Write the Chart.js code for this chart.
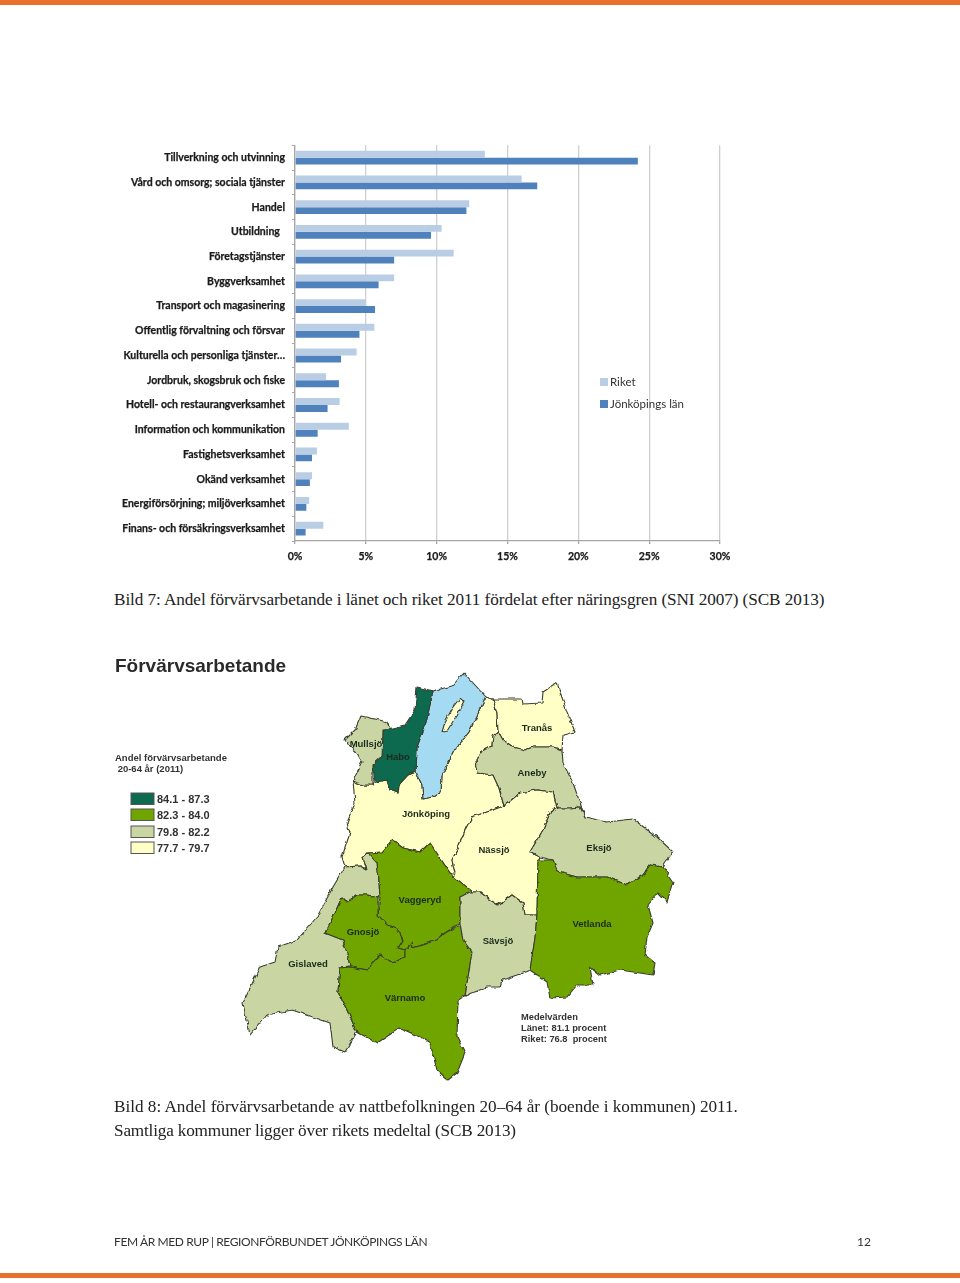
<!DOCTYPE html>
<html lang="sv"><head><meta charset="utf-8">
<script src="https://cdn.jsdelivr.net/npm/chart.js@4"></script>
<style>
html,body{margin:0;padding:0;background:#fff}
body{width:960px;height:1283px;position:relative;overflow:hidden}
.abs{position:absolute;white-space:pre}
.bar{position:absolute;left:0;width:960px;height:5px;background:#e8702a}
.cap{position:absolute;left:114px;font:17.2px "Liberation Serif",serif;color:#222;white-space:pre}
#chartBox{position:absolute;left:100px;top:132px;width:640px;height:438px}
.lg{position:absolute;font:400 11.5px Lato,sans-serif;color:#333;white-space:pre}
.sw{position:absolute;width:8px;height:8px}
svg{position:absolute;left:0;top:0}
</style></head><body>
<div class="bar" style="top:0"></div>
<div class="bar" style="top:1273px"></div>
<div id="chartBox"><canvas id="c" width="640" height="438"></canvas></div>
<div id="legend"></div>
<div class="cap" style="top:590px;letter-spacing:-0.08px">Bild 7: Andel förvärvsarbetande i länet och riket 2011 fördelat efter näringsgren (SNI 2007) (SCB 2013)</div>
<svg id="map" width="960" height="1283" viewBox="0 0 960 1283">
<defs><filter id="rough" x="-5%" y="-5%" width="110%" height="110%">
<feTurbulence type="fractalNoise" baseFrequency="0.16" numOctaves="2" seed="4" result="n"/>
<feDisplacementMap in="SourceGraphic" in2="n" scale="4" xChannelSelector="R" yChannelSelector="G"/>
<feGaussianBlur stdDeviation="0.35"/></filter>
<filter id="soft"><feGaussianBlur stdDeviation="0.25"/></filter></defs>
<g id="regions" filter="url(#rough)" stroke="#3a3f30" stroke-width="1.1" stroke-linejoin="round"></g>
<g id="labels" filter="url(#soft)" font-family="'Liberation Sans',Arial,sans-serif" font-weight="700" fill="#1c2a1c"></g>
</svg>
<div class="cap" style="top:1097px;letter-spacing:-0.02px">Bild 8: Andel förvärvsarbetande av nattbefolkningen 20–64 år (boende i kommunen) 2011.</div>
<div class="cap" style="top:1121px;letter-spacing:-0.18px">Samtliga kommuner ligger över rikets medeltal (SCB 2013)</div>
<div class="abs" style="left:114px;top:1234px;font:12px Lato,sans-serif;letter-spacing:-0.39px;color:#333">FEM ÅR MED RUP | REGIONFÖRBUNDET JÖNKÖPINGS LÄN</div>
<div class="abs" style="left:857px;top:1234px;font:12px Lato,sans-serif;color:#333">12</div>
<script>
const categories = ["Tillverkning och utvinning","Vård och omsorg; sociala tjänster","Handel","Utbildning  ","Företagstjänster","Byggverksamhet","Transport och magasinering","Offentlig förvaltning och försvar","Kulturella och personliga tjänster…","Jordbruk, skogsbruk och fiske","Hotell- och restaurangverksamhet","Information och kommunikation","Fastighetsverksamhet","Okänd verksamhet","Energiförsörjning; miljöverksamhet","Finans- och försäkringsverksamhet"];
const riket = [13.4,16.0,12.3,10.35,11.2,7.0,5.0,5.6,4.35,2.2,3.15,3.8,1.55,1.2,1.0,2.0];
const jonkoping = [24.2,17.1,12.1,9.6,7.0,5.9,5.65,4.55,3.25,3.1,2.3,1.6,1.2,1.05,0.8,0.75];
const seriesNames = ["Riket","Jönköpings län"];
const seriesColors = ["#b9cde5","#4f81bd"];
const xTicks = [0,5,10,15,20,25,30];

const chart = new Chart(document.getElementById('c'),{
  type:'bar',
  data:{labels:categories,datasets:[
    {label:seriesNames[0],data:riket,backgroundColor:seriesColors[0]},
    {label:seriesNames[1],data:jonkoping,backgroundColor:seriesColors[1]}]},
  options:{indexAxis:'y',responsive:false,animation:false,
    categoryPercentage:0.56,barPercentage:1,
    layout:{padding:{left:0,right:20,top:5,bottom:0}},
    plugins:{legend:{display:false},tooltip:{enabled:false}},
    scales:{
      x:{min:0,max:30,afterBuildTicks(s){s.ticks=xTicks.map(v=>({value:v}))},
        afterFit(s){s.height=29},
        grid:{color:'#cfcfcf',lineWidth:1.3,tickLength:3,tickColor:'#a6a6a6'},
        border:{color:'#a6a6a6',width:1.3},
        ticks:{callback:v=>v+'%',color:'#1a1a1a',font:{family:'Lato',size:10.5,weight:'700'},padding:6,maxRotation:0,autoSkip:false,textStrokeWidth:0.25,textStrokeColor:'#1a1a1a'}},
      y:{afterFit(s){s.width=195},
        grid:{display:true,drawOnChartArea:false,tickLength:3,color:'#a6a6a6',offset:true},
        border:{color:'#a6a6a6',width:1.3},
        ticks:{color:'#1a1a1a',font:{family:'Lato',size:10.5,weight:'700'},padding:7,autoSkip:false,crossAlign:'near',textStrokeWidth:0.25,textStrokeColor:'#1a1a1a'}}
    }}
});

const legendY=[382,404];
seriesNames.forEach((n,i)=>{
  const h=document.getElementById('legend');
  const s=document.createElement('div');s.className='sw';s.style.cssText+=`left:600px;top:${legendY[i]-4}px;background:${seriesColors[i]}`;h.appendChild(s);
  const t=document.createElement('div');t.className='lg';t.textContent=n;t.style.cssText+=`left:610px;top:${legendY[i]-7}px`;h.appendChild(t);
});

const C={dark:'#0b6b4f',green:'#70a500',light:'#c9d6a4',cream:'#ffffc6',blue:'#a5daf3',isl:'#ffffd0'};
const regions=[
 ['cream',"486,697 493,699 497,713 498,731 493,735 492,746 480,752 476,760 478,773 493,775 499,788 504,806 487,812 472,817 466,828 458,848 452,860 455,873 450,873 430,843 420,852 403,848 392,840 382,852 368,853 363,858 367,870 360,866 345,867 342,857 350,833 347,823 355,803 353,781 363,785 373,785 375,782 387,780 390,790 398,793 399,785 408,775 416,772 422,785 423,799 432,797 441,793 442,775 455,750 469,732"],
 ['blue',"464,673 486,697 469,732 455,750 442,775 441,793 432,797 423,799 422,785 416,772 417,747 426,723 433,691 452,686"],
 ['isl',"460,698 464,702 457,715 447,731 442,732 445,722 453,707"],
 ['dark',"417,687 433,691 426,723 417,747 416,772 408,775 399,785 398,793 390,790 387,780 375,782 373,765 382,757 383,730 405,725 415,710"],
 ['light',"361,716 375,719 387,722 390,729 383,730 382,757 373,765 373,785 363,785 353,781 362,762 357,753 350,747 345,740 355,730"],
 ['cream',"493,699 522,699 523,704 542,703 543,692 557,683 567,712 575,732 563,735 562,750 553,747 533,747 525,750 513,747 503,740 498,731 497,713"],
 ['light',"498,731 503,740 513,747 525,750 533,747 553,747 562,750 563,763 573,783 585,817 580,807 570,808 557,808 553,792 537,790 520,793 504,806 499,788 493,775 478,773 476,760 480,752 492,746 493,735"],
 ['cream',"504,806 520,793 537,790 553,792 557,808 550,813 543,830 530,852 540,857 538,863 537,915 525,915 523,903 512,895 498,905 490,900 480,892 470,892 460,897 453,877 455,873 452,860 458,848 466,828 472,817 487,812"],
 ['light',"557,808 570,808 580,807 585,817 607,822 633,819 657,837 673,852 665,863 663,867 650,865 643,875 627,885 607,877 577,877 558,872 553,860 540,857 530,852 543,830 550,813"],
 ['light',"368,853 377,863 378,870 380,897 367,895 357,895 347,902 342,897 333,917 325,933 343,940 348,957 350,967 340,968 338,992 347,1010 357,1032 345,1052 333,1047 330,1023 313,1017 292,1010 267,1015 250,1035 243,1003 260,967 275,962 278,947 297,940 317,917 333,887 345,867 360,866 367,870 363,858"],
 ['green',"368,853 382,852 392,840 403,848 420,852 430,843 450,873 453,877 472,892 460,897 460,923 445,933 437,940 413,948 412,942 405,950 398,948 403,940 397,928 387,925 378,915 380,897 379,880 377,863"],
 ['green',"342,897 347,902 357,895 367,895 378,897 378,915 387,925 397,928 403,940 398,948 405,950 405,957 393,963 380,955 372,963 368,970 350,967 348,957 343,940 325,933 333,917"],
 ['green',"350,967 368,970 372,963 380,955 393,963 405,957 405,950 412,942 413,948 437,940 445,933 460,925 463,940 472,952 465,996 458,1000 457,1037 465,1053 457,1073 448,1080 437,1070 430,1043 422,1038 400,1028 377,1043 357,1032 347,1010 338,992 340,968"],
 ['light',"460,897 470,892 480,892 490,900 498,905 512,895 523,903 525,915 537,915 535,938 530,970 517,975 502,980 500,987 487,987 465,996 472,952 463,940 460,923"],
 ['green',"538,860 553,860 558,872 577,877 607,877 627,885 643,875 650,865 663,867 673,882 667,902 658,893 648,905 653,923 647,937 645,955 655,963 653,975 620,970 600,975 590,967 593,985 577,985 567,997 550,998 547,982 530,970 535,938 537,915"]
];
const NS='http://www.w3.org/2000/svg';
const rg=document.getElementById('regions');
regions.forEach(([k,p])=>{const e=document.createElementNS(NS,'polygon');e.setAttribute('points',p);e.setAttribute('fill',C[k]);rg.appendChild(e);});
const lab=document.getElementById('labels');
function T(s,x,y,size,anchor,extra){const e=document.createElementNS(NS,'text');e.textContent=s;e.setAttribute('x',x);e.setAttribute('y',y);e.setAttribute('font-size',size);e.setAttribute('text-anchor',anchor||'middle');e.setAttributeNS('http://www.w3.org/XML/1998/namespace','xml:space','preserve');if(extra)for(const a in extra)e.setAttribute(a,extra[a]);lab.appendChild(e);}
[["Mullsjö",366,747],["Habo",398,760],["Tranås",537,731],["Aneby",532,776],["Jönköping",426,817],["Nässjö",494,853],["Eksjö",599,851],["Vaggeryd",420,903],["Gnosjö",363,935],["Gislaved",308,967],["Värnamo",405,1001],["Sävsjö",498,944],["Vetlanda",592,927]].forEach(a=>T(a[0],a[1],a[2],9.5));
T("Förvärvsarbetande",115,672,19,'start',{fill:'#2a2a2a'});
T("Andel förvärvsarbetande",115,761,9.5,'start',{fill:'#333'});
T(" 20-64 år (2011)",115,772,9.5,'start',{fill:'#333'});
const legendBands=["84.1 - 87.3","82.3 - 84.0","79.8 - 82.2","77.7 - 79.7"];
const bandColors=[C.dark,C.green,C.light,C.cream];
const bandY=[793,809,826,842];
legendBands.forEach((s,i)=>{
  const r=document.createElementNS(NS,'rect');r.setAttribute('x',131);r.setAttribute('y',bandY[i]);r.setAttribute('width',23);r.setAttribute('height',11.5);r.setAttribute('fill',bandColors[i]);r.setAttribute('stroke','#555');lab.appendChild(r);
  T(s,157,bandY[i]+9.5,11,'start',{fill:'#333'});
});
T("Medelvärden",521,1020,9.3,'start',{fill:'#333'});
T("Länet: 81.1 procent",521,1031,9.3,'start',{fill:'#333'});
T("Riket: 76.8  procent",521,1042,9.3,'start',{fill:'#333'});
</script>
</body></html>
